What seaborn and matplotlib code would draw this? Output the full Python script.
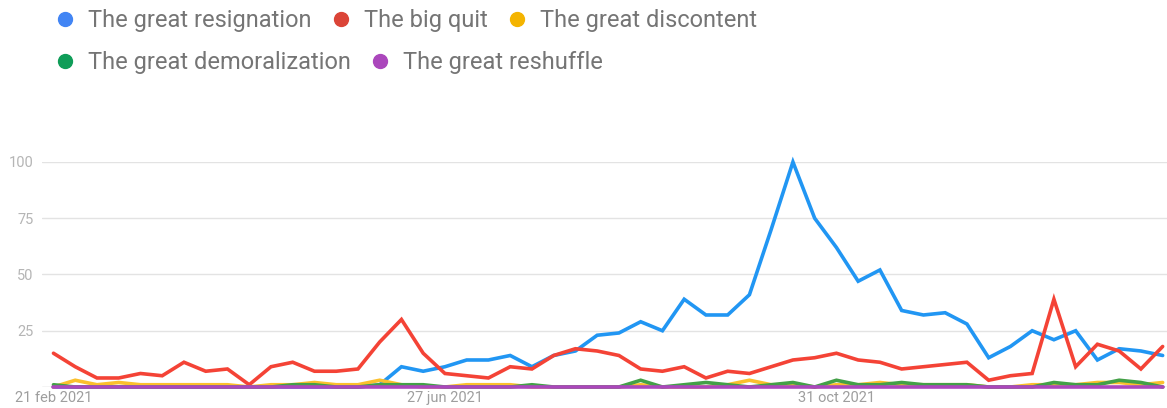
import numpy as np
import pandas as pd
import matplotlib
matplotlib.use("Agg")
import matplotlib.pyplot as plt
from matplotlib.lines import Line2D
import seaborn as sns

# weekly Google Trends values, 21 feb 2021 -> 13 feb 2022
semanas = pd.date_range("2021-02-21", periods=52, freq="7D")

resignation = [0, 0, 0, 0, 0, 0, 0, 0, 0, 0, 0, 0, 0, 0, 0, 1, 9, 7, 9, 12,
               12, 14, 9, 14, 16, 23, 24, 29, 25, 39, 32, 32, 41, 70, 100, 75, 62, 47, 52, 34,
               32, 33, 28, 13, 18, 25, 21, 25, 12, 17, 16, 14]
big_quit = [15, 9, 4, 4, 6, 5, 11, 7, 8, 1, 9, 11, 7, 7, 8, 20, 30, 15, 6, 5,
            4, 9, 8, 14, 17, 16, 14, 8, 7, 9, 4, 7, 6, 9, 12, 13, 15, 12, 11, 8,
            9, 10, 11, 3, 5, 6, 39, 9, 19, 16, 8, 18]
discontent = [0, 3, 1, 2, 1, 1, 1, 1, 1, 0, 1, 1, 2, 1, 1, 3, 1, 0, 0, 1,
              1, 1, 0, 0, 0, 0, 0, 1, 0, 0, 0, 1, 3, 1, 1, 0, 1, 1, 2, 1,
              1, 1, 1, 0, 0, 1, 1, 1, 2, 2, 1, 2]
demoralization = [1, 0, 0, 0, 0, 0, 0, 0, 0, 0, 0, 1, 1, 0, 0, 1, 1, 1, 0, 0,
                  0, 0, 1, 0, 0, 0, 0, 3, 0, 1, 2, 1, 0, 1, 2, 0, 3, 1, 1, 2,
                  1, 1, 1, 0, 0, 0, 2, 1, 1, 3, 2, 0]
reshuffle = [0] * 52

termos = ["The great resignation", "The big quit", "The great discontent",
          "The great demoralization", "The great reshuffle"]
cores_linha = ["#2196F3", "#F44336", "#FBC02D", "#43A047", "#AB47BC"]
cores_legenda = ["#4285F4", "#DB4437", "#F4B400", "#0F9D58", "#AB47BC"]

rotulos_x = ["21 feb 2021", "27 jun 2021", "31 oct 2021"]
pos_rotulos = [0, 18, 36]

df = pd.DataFrame({"semana": semanas,
                   termos[0]: resignation,
                   termos[1]: big_quit,
                   termos[2]: discontent,
                   termos[3]: demoralization,
                   termos[4]: reshuffle})
longo = df.melt(id_vars="semana", var_name="termo", value_name="valor")

sns.set_theme(style="white")
plt.rcParams["font.family"] = ["Roboto", "DejaVu Sans"]

fig = plt.figure(figsize=(11.67, 4.08), dpi=100)
ax = fig.add_axes([0.0357, 0.0515, 0.9643, 0.5515])

sns.lineplot(data=longo, x="semana", y="valor", hue="termo", hue_order=termos,
             palette=dict(zip(termos, cores_linha)), linewidth=2.6, legend=False,
             ax=ax)
for ln in ax.lines:
    ln.set_clip_on(False)
    ln.set_solid_joinstyle("miter")

ax.set_ylim(0, 100)
ax.set_xlim(semanas[0] - pd.Timedelta(days=3.8), semanas[-1] + pd.Timedelta(days=1.4))
ax.set_yticks([25, 50, 75, 100])
ax.set_yticklabels(["25", "50", "75", "100"])
ax.set_xticks([semanas[i] for i in pos_rotulos])
ax.set_xticklabels(rotulos_x)
ax.tick_params(axis="y", length=0, pad=6, labelsize=10.5, labelcolor="#b5b5b5")
ax.tick_params(axis="x", length=0, pad=3, labelsize=10.5, labelcolor="#9e9e9e")
for lbl in ax.get_xticklabels():
    lbl.set_horizontalalignment("center")
ax.set_xlabel("")
ax.set_ylabel("")

ax.grid(False)
for v in [25, 50, 75, 100]:
    ax.axhline(v, color="#e3e3e3", lw=1, zorder=0)
ax.axhline(0, color="#c8c8c8", lw=1, zorder=0)
for s in ax.spines.values():
    s.set_visible(False)

# legenda em duas linhas
def alca(cor):
    return Line2D([], [], marker="o", ls="", markersize=10, color=cor)

opcoes = dict(loc="upper left", frameon=False, fontsize=17, handlelength=0.6,
              handletextpad=0.68, columnspacing=0.93, labelcolor="#757575")
leg1 = fig.legend([alca(c) for c in cores_legenda[:3]], termos[:3],
                  bbox_to_anchor=(0.0315, 1.03), ncol=3, **opcoes)
leg2 = fig.legend([alca(c) for c in cores_legenda[3:]], termos[3:],
                  bbox_to_anchor=(0.0315, 0.927), ncol=2, **opcoes)

fig.savefig("out.png", dpi=100)
